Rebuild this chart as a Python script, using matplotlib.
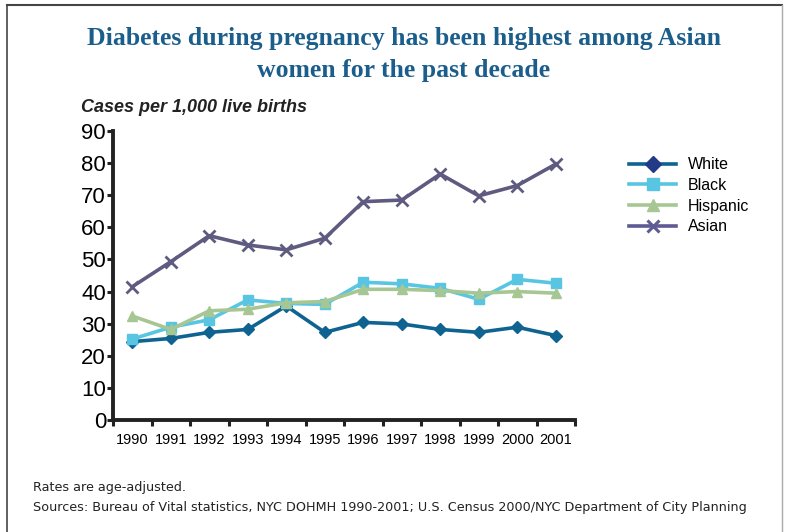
import matplotlib
matplotlib.use("Agg")
import matplotlib.pyplot as plt
from matplotlib.lines import Line2D

years = ["1990", "1991", "1992", "1993", "1994", "1995", "1996", "1997", "1998", "1999", "2000", "2001"]
white = [24.4, 25.4, 27.3, 28.2, 35.5, 27.3, 30.4, 29.9, 28.2, 27.3, 28.9, 26.3]
black = [25.2, 28.9, 31.2, 37.4, 36.3, 36.0, 42.9, 42.4, 41.0, 37.6, 43.8, 42.6]
hispanic = [32.4, 28.2, 34.0, 34.5, 36.5, 36.9, 40.7, 40.7, 40.3, 39.5, 40.0, 39.5]
asian = [41.5, 49.3, 57.4, 54.5, 53.0, 56.6, 68.0, 68.5, 76.6, 69.8, 73.0, 79.7]
yticks = [0, 10, 20, 30, 40, 50, 60, 70, 80, 90]

W, H = 786, 532
fig = plt.figure(figsize=(W / 100, H / 100), dpi=100)
fig.patch.set_facecolor("white")

def px(x0, y0, x1, y1):
    return [x0 / W, 1 - y1 / H, (x1 - x0) / W, (y1 - y0) / H]

ax = fig.add_axes(px(113, 131, 575, 420))
x = list(range(len(years)))

series = [
    ("White", white, "#0f6391", "D", "#0f6391", 6),
    ("Black", black, "#58c6e2", "s", "#58c6e2", 7),
    ("Hispanic", hispanic, "#a6c693", "^", "#a6c693", 7),
    ("Asian", asian, "#5e5a80", "x", "#5e5a80", 8),
]
for name, vals, col, mk, mcol, ms in series:
    ax.plot(x, vals, color=col, lw=2.6, marker=mk, markersize=ms,
            markerfacecolor=mcol, markeredgecolor=mcol,
            markeredgewidth=2.0 if mk == "x" else 1, label=name)

ax.set_xlim(-0.5, len(years) - 0.5)
ax.set_ylim(0, 90)
ax.set_yticks(yticks)
ax.set_yticklabels([str(v) for v in yticks], fontsize=16, family="Liberation Sans")
ax.set_xticks([i - 0.5 for i in range(len(years) + 1)])
ax.set_xticklabels([])
ax.set_xticks(x, minor=True)
ax.set_xticklabels(years, minor=True, fontsize=10.5, family="Liberation Sans")
ax.tick_params(axis="x", which="minor", length=0, pad=9)
ax.tick_params(axis="x", which="major", direction="out", length=4, width=2.2, color="#222222")
ax.tick_params(axis="y", direction="out", length=4, width=2.2, color="#222222", pad=1)
for s in ("top", "right"):
    ax.spines[s].set_visible(False)
for s in ("left", "bottom"):
    ax.spines[s].set_linewidth(2.8)
    ax.spines[s].set_color("#222222")
ax.patch.set_alpha(0)

handles = [
    Line2D([], [], color="#0f6391", lw=2.6, marker="D", markersize=8,
           markerfacecolor="#233a86", markeredgecolor="#233a86"),
    Line2D([], [], color="#58c6e2", lw=2.6, marker="s", markersize=8,
           markerfacecolor="#58c6e2", markeredgecolor="#58c6e2"),
    Line2D([], [], color="#a6c693", lw=2.6, marker="^", markersize=8,
           markerfacecolor="#a6c693", markeredgecolor="#a6c693"),
    Line2D([], [], color="#5e5a94", lw=2.6, marker="x", markersize=9,
           markeredgewidth=2.2, markerfacecolor="#5e5a94", markeredgecolor="#5e5a94"),
]
fig.legend(handles, [s[0] for s in series], loc="upper left",
           bbox_to_anchor=(615 / W, 1 - 143 / H), frameon=False,
           prop={"family": "Liberation Sans", "size": 11.5},
           handlelength=2.9, handletextpad=0.75, labelspacing=0.35)

fig.text(404 / W, 1 - 38 / H, "Diabetes during pregnancy has been highest among Asian",
         ha="center", va="center", fontsize=18.5, fontweight="bold",
         family="Liberation Serif", color="#1b5e8c")
fig.text(404 / W, 1 - 70 / H, "women for the past decade",
         ha="center", va="center", fontsize=18.5, fontweight="bold",
         family="Liberation Serif", color="#1b5e8c")
fig.text(81 / W, 1 - 107 / H, "Cases per 1,000 live births", ha="left", va="center",
         fontsize=13, fontweight="bold", fontstyle="italic",
         family="Liberation Sans", color="#222222")
fig.text(33 / W, 1 - 488 / H, "Rates are age-adjusted.", ha="left", va="center",
         fontsize=9.2, family="DejaVu Sans", color="#222222")
fig.text(33 / W, 1 - 508 / H,
         "Sources: Bureau of Vital statistics, NYC DOHMH 1990-2001; U.S. Census 2000/NYC Department of City Planning",
         ha="left", va="center", fontsize=9.2, family="DejaVu Sans", color="#222222")

# page frame
fig.add_artist(Line2D([7 / W, 782 / W], [1 - 4.5 / H, 1 - 4.5 / H], color="#444444", lw=1.5))
fig.add_artist(Line2D([7 / W, 7 / W], [1 - 4.5 / H, 0], color="#444444", lw=1.2))
fig.add_artist(Line2D([781.5 / W, 781.5 / W], [1 - 4.5 / H, 0], color="#aaaaaa", lw=1.0))

fig.savefig("out.png", dpi=100)
